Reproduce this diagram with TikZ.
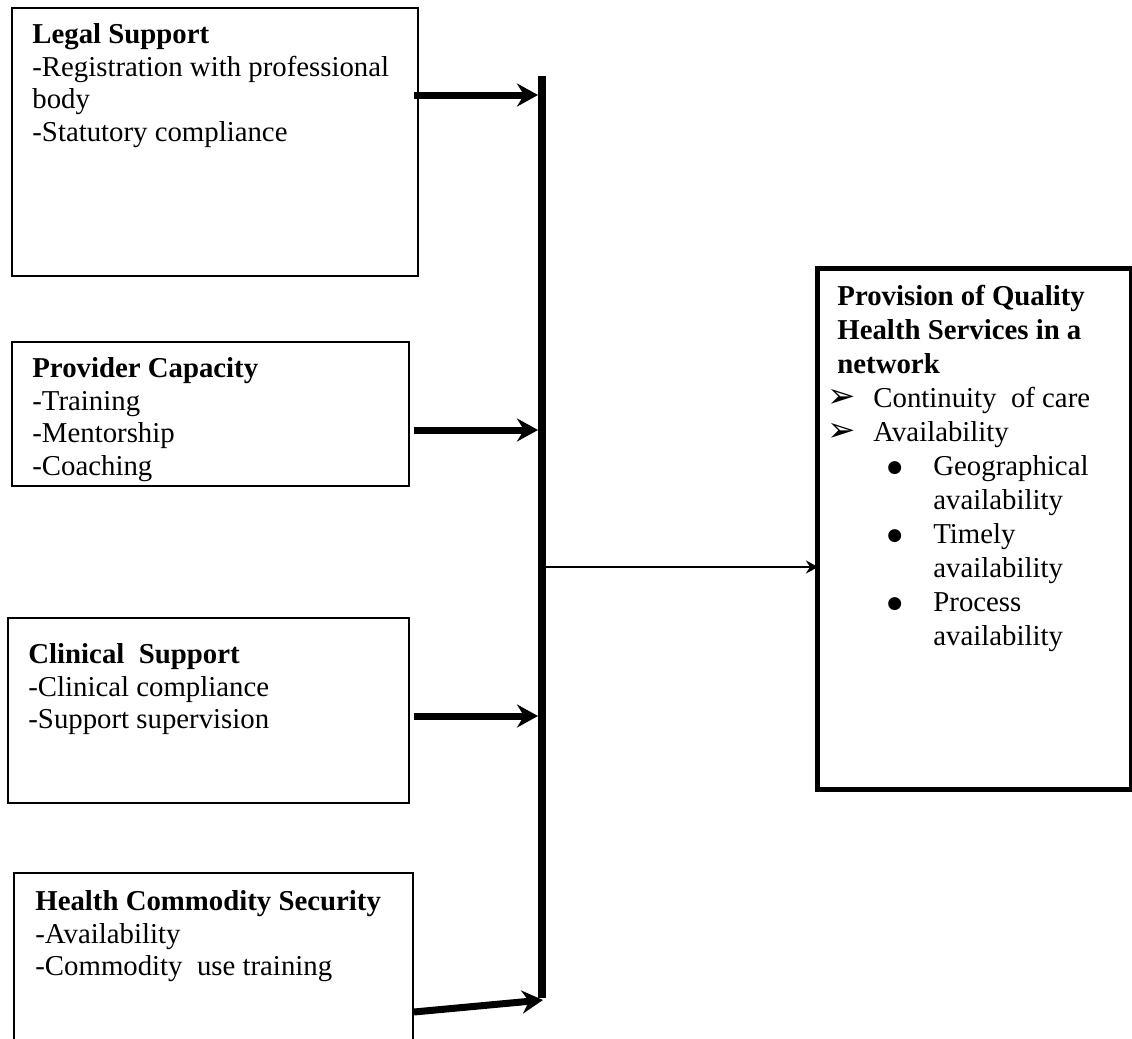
\documentclass[tikz,border=0pt]{standalone}
\usepackage{fontspec}
\setmainfont{Liberation Serif}
\newfontfamily\dejavu{DejaVu Sans}
\usetikzlibrary{arrows.meta}
\newcommand\myarr{\makebox[18pt][l]{\hspace*{-5pt}{\dejavu\fontsize{17}{17}\selectfont ➢}}}
\newcommand\mybul{\hspace*{25pt}\makebox[23pt][l]{\raisebox{1.3pt}{\dejavu\fontsize{8.5}{8.5}\selectfont ●}}}
\newcommand\myind{\hspace*{48pt}}
\begin{document}
\begin{tikzpicture}[x=0.5pt,y=-0.5pt,
  box/.style={draw, line width=1pt, anchor=north west, inner sep=0pt},
  txt/.style={anchor=north west, inner sep=0pt, align=left, font=\fontsize{14.4}{16.3}\selectfont},
  bigarrow/.style={line width=3.5pt, -{Stealth[length=10.5pt,width=11.5pt,inset=3.5pt]}},
  thinarrow/.style={line width=1pt, -{Stealth[length=6pt,width=6.5pt,inset=2pt]}}]
\clip (0,0) rectangle (1132,1039);
% boxes
\node[box, minimum width=203pt, minimum height=134pt] (b1) at (11,7) {};
\node[box, minimum width=198.5pt, minimum height=72pt] (b2) at (11,341) {};
\node[box, minimum width=200.5pt, minimum height=92.5pt] (b3) at (7,617) {};
\node[box, minimum width=199.5pt, minimum height=100pt] (b4) at (13,872) {};
\node[box, line width=2.5pt, minimum width=157pt, minimum height=260.5pt] (rb) at (815,266) {};
% texts
\node[txt] (t1) at (32,21) {\rule{0pt}{11pt}\textbf{Legal Support}\\-Registration with professional\\body\\-Statutory compliance};
\node[txt] (t2) at (32,355) {\rule{0pt}{11pt}\textbf{Provider Capacity}\\-Training\\-Mentorship\\-Coaching};
\node[txt] (t3) at (28,641) {\rule{0pt}{11pt}\textbf{Clinical\ \ Support}\\-Clinical compliance\\-Support supervision};
\node[txt] (t4) at (35,888) {\rule{0pt}{11pt}\textbf{Health Commodity Security}\\-Availability\\-Commodity\ \ use training};
\node[txt, font=\fontsize{14.4}{17}\selectfont] (t5) at (837,283) {\rule{0pt}{11pt}\textbf{Provision of Quality}\\
\textbf{Health Services in a}\\
\textbf{network}\\
\myarr Continuity\ \ of care\\
\myarr Availability\\
\mybul Geographical\\
\myind availability\\
\mybul Timely\\
\myind availability\\
\mybul Process\\
\myind availability};
% bar
\node[fill=black, inner sep=0pt, minimum width=4pt, minimum height=461pt, anchor=north] (bar) at (542,76) {};
% arrows
\coordinate (a1) at (538,95);
\coordinate (a2) at (538,430);
\coordinate (a3) at (538,716);
\coordinate (a4) at (543,1000);
\coordinate (s4) at (412,1012);
\draw[bigarrow] ([xshift=-2.5pt]b1.east |- a1) -- (a1);
\draw[bigarrow] ([xshift=2pt]b2.east |- a2) -- (a2);
\draw[bigarrow] ([xshift=2pt]b3.east |- a3) -- (a3);
\draw[bigarrow] (b4.east |- s4) -- (a4);
\coordinate (m) at (542,567);
\draw[thinarrow] (m) -- ([xshift=1.5pt]m -| rb.west);
\end{tikzpicture}
\end{document}
